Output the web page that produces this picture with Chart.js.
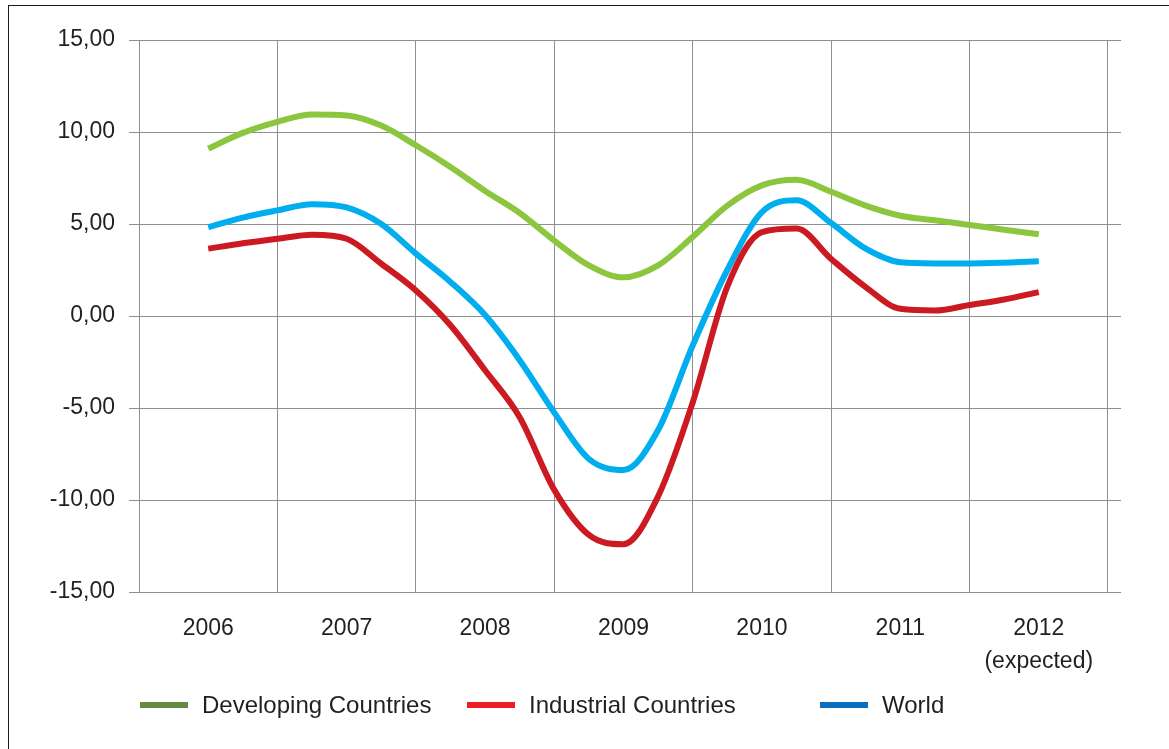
<!DOCTYPE html>
<html>
<head>
<meta charset="utf-8">
<script src="https://cdn.jsdelivr.net/npm/chart.js@4.4.1/dist/chart.umd.min.js"></script>
<style>
html,body{margin:0;padding:0;background:#fff;}
#wrap{position:relative;width:1169px;height:749px;overflow:hidden;font-family:"Liberation Sans",Arial,sans-serif;color:#231f20;}
#frame{position:absolute;left:8px;top:5px;width:1300px;height:900px;border-left:1.6px solid #1a1a1a;border-top:1.6px solid #1a1a1a;}
#c{position:absolute;left:0;top:0;}
.leg{position:absolute;top:690px;height:30px;display:flex;align-items:center;font-size:24px;white-space:nowrap;color:#231f20;}
.sw{display:inline-block;width:48px;height:6px;margin-right:14px;}
</style>
</head>
<body>
<div id="wrap">
  <div id="frame"></div>
  <canvas id="c" width="1169" height="749"></canvas>
</div>
<script>
// fractional position in years after 2006 (quarterly readings)
const periods = [0, 0.25, 0.5, 0.75, 1, 1.25, 1.5, 1.75, 2, 2.25, 2.5, 2.75, 3, 3.25, 3.5, 3.75, 4, 4.25, 4.5, 4.75, 5, 5.25, 5.5, 5.75, 6];
const years = ['2006', '2007', '2008', '2009', '2010', '2011', ['2012', '(expected)']];
const seriesNames = ['Developing Countries', 'Industrial Countries', 'World'];
const developing = [9.1, 9.95, 10.55, 10.95, 10.9, 10.35, 9.28, 8.1, 6.8, 5.6, 4.1, 2.75, 2.1, 2.75, 4.3, 6.0, 7.1, 7.4, 6.75, 6.0, 5.45, 5.2, 4.95, 4.69, 4.44];
const industrial = [3.66, 3.95, 4.2, 4.42, 4.2, 2.84, 1.39, -0.5, -2.95, -5.5, -9.45, -11.9, -12.4, -9.8, -4.7, 1.6, 4.56, 4.75, 3.1, 1.57, 0.39, 0.3, 0.6, 0.9, 1.3];
const world = [4.83, 5.35, 5.74, 6.08, 5.9, 5.0, 3.39, 1.85, 0.05, -2.4, -5.25, -7.77, -8.37, -6.2, -1.6, 2.5, 5.65, 6.29, 5.05, 3.66, 2.92, 2.86, 2.86, 2.9, 2.97];
const yTicks = [-15, -10, -5, 0, 5, 10, 15];

const lineColors = ['#8cc63f', '#cc1a22', '#00aeef'];
const legendColors = ['#658a40', '#ee1c25', '#0a6fbe'];
const legendLeft = [140, 467, 820];

const values = [developing, industrial, world];
const gridValues = [];
for (let i = 0; i <= years.length; i++) gridValues.push(i - 0.5);
const labelValues = years.map((_, i) => i);
const xTickValues = gridValues.concat(labelValues).sort((a, b) => a - b);

const font = {family: '"Liberation Sans", Arial, sans-serif', size: 23};

new Chart(document.getElementById('c'), {
  type: 'line',
  data: {
    datasets: seriesNames.map((name, s) => ({
      label: name,
      data: periods.map((p, i) => ({x: p, y: values[s][i]})),
      borderColor: lineColors[s],
      backgroundColor: lineColors[s],
      borderWidth: 6,
      pointRadius: 0,
      fill: false,
      cubicInterpolationMode: 'monotone',
      borderCapStyle: 'butt'
    }))
  },
  options: {
    responsive: false,
    animation: false,
    layout: {padding: {top: 40, right: 48, left: 0, bottom: 0}},
    plugins: {legend: {display: false}, tooltip: {enabled: false}},
    scales: {
      x: {
        type: 'linear',
        bounds: 'data',
        min: -0.5,
        max: 6.594,
        afterBuildTicks: ax => { ax.ticks = xTickValues.map(v => ({value: v})); },
        afterFit: ax => { ax.height = 157; },
        grid: {
          color: ctx => (ctx.tick && Number.isInteger(ctx.tick.value)) ? 'rgba(0,0,0,0)' : '#8f8f8f',
          lineWidth: 1,
          drawTicks: false
        },
        border: {display: false},
        ticks: {
          autoSkip: false,
          maxRotation: 0,
          minRotation: 0,
          padding: 21,
          color: '#231f20',
          font: Object.assign({lineHeight: 1.4}, font),
          callback: v => Number.isInteger(v) ? years[v] : ''
        }
      },
      y: {
        min: -15,
        max: 15,
        afterBuildTicks: ax => { ax.ticks = yTicks.map(v => ({value: v})); },
        afterFit: ax => { ax.width = 139; },
        grid: {color: '#8f8f8f', lineWidth: 1, drawTicks: true, tickLength: 10},
        border: {display: false},
        ticks: {
          padding: 14,
          color: '#231f20',
          font: font,
          callback: v => v.toFixed(2).replace('.', ',')
        }
      }
    }
  }
});

const wrap = document.getElementById('wrap');
seriesNames.forEach((name, s) => {
  const d = document.createElement('div');
  d.className = 'leg';
  d.style.left = legendLeft[s] + 'px';
  const sw = document.createElement('span');
  sw.className = 'sw';
  sw.style.background = legendColors[s];
  d.appendChild(sw);
  d.appendChild(document.createTextNode(name));
  wrap.appendChild(d);
});
</script>
</body>
</html>
